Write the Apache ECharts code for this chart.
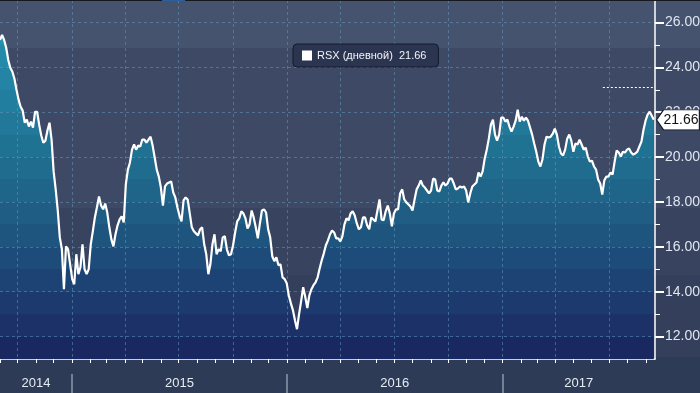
<!DOCTYPE html>
<html>
<head>
<meta charset="utf-8">
<script src="https://cdn.jsdelivr.net/npm/echarts@6/dist/echarts.min.js"></script>
<style>
  html, body { margin: 0; padding: 0; background: #2c3a55; }
  #chart { width: 700px; height: 393px; }
</style>
</head>
<body>
<div id="chart"></div>
<script>
// RSX closing prices, every half week from 1 Sep 2014
const values = [
  25.22, 25.44, 25.22, 24.87, 24.33, 23.98, 23.80, 23.49, 23.00, 22.56,
  22.24, 22.07, 21.53, 21.67, 21.36, 21.58, 21.31, 22.02, 22.02, 21.44,
  20.96, 20.64, 20.73, 21.18, 21.53, 20.78, 19.36, 18.56, 17.62, 16.42,
  15.89, 14.11, 16.02, 15.89, 15.22, 14.56, 14.33, 15.67, 14.78, 15.09,
  16.11, 15.00, 14.78, 15.00, 16.11, 16.69, 17.31, 17.76, 18.24, 17.84,
  17.67, 17.93, 17.53, 16.87, 16.33, 16.02, 16.56, 16.96, 17.22, 17.36,
  17.09, 18.78, 19.44, 19.76, 20.33, 20.56, 20.33, 20.51, 20.47, 20.78,
  20.78, 20.64, 20.78, 20.91, 20.51, 19.98, 19.44, 19.13, 18.64, 17.84,
  18.69, 18.82, 18.87, 18.91, 18.42, 18.20, 17.76, 17.40, 17.13, 18.07,
  18.20, 18.11, 17.49, 16.87, 16.69, 16.60, 16.51, 16.78, 16.87, 16.11,
  15.67, 14.78, 15.22, 16.11, 16.56, 15.67, 15.89, 15.80, 16.42, 16.47,
  15.89, 15.62, 15.67, 16.07, 16.64, 17.13, 17.27, 17.58, 17.49, 17.27,
  16.82, 17.00, 17.62, 17.31, 16.87, 16.38, 17.04, 17.62, 17.67, 17.53,
  16.78, 16.42, 15.58, 15.36, 15.53, 15.18, 15.22, 14.64, 14.56, 14.38,
  13.84, 13.49, 13.18, 12.73, 12.33, 13.00, 13.58, 14.20, 13.76, 13.27,
  13.84, 14.11, 14.29, 14.42, 14.64, 15.04, 15.40, 15.71, 16.07, 16.29,
  16.56, 16.73, 16.64, 16.38, 16.38, 16.24, 16.47, 17.00, 17.27, 17.18,
  17.49, 17.58, 17.40, 17.04, 16.78, 16.87, 17.31, 17.31, 16.96, 16.78,
  17.31, 17.22, 17.13, 17.62, 18.11, 17.22, 17.18, 17.58, 17.84, 17.49,
  16.91, 17.49, 17.67, 17.67, 18.38, 18.56, 18.11, 17.98, 17.89, 17.80,
  17.62, 18.11, 18.56, 18.73, 18.96, 18.73, 18.64, 18.51, 18.38, 18.51,
  19.04, 19.00, 18.51, 18.47, 18.73, 18.87, 18.73, 18.82, 19.04, 19.04,
  18.82, 18.56, 18.60, 18.69, 18.64, 18.69, 18.51, 17.98, 18.38, 18.69,
  18.78, 18.87, 19.31, 19.13, 19.36, 19.93, 20.33, 20.82, 21.44, 21.67,
  21.00, 20.73, 21.00, 21.76, 21.76, 21.58, 21.67, 21.36, 21.13, 21.36,
  21.62, 22.11, 21.58, 21.80, 21.62, 21.76, 21.62, 21.31, 21.00, 20.60,
  20.24, 19.80, 19.58, 19.89, 20.56, 20.91, 20.87, 20.91, 21.04, 21.27,
  21.00, 20.47, 20.16, 20.07, 20.33, 20.82, 21.00, 20.73, 20.24, 20.60,
  20.56, 20.78, 20.56, 20.33, 20.42, 20.02, 19.80, 19.84, 19.58, 19.44,
  19.00, 18.82, 18.33, 18.96, 19.13, 19.13, 19.31, 19.22, 19.80, 20.29,
  20.20, 20.02, 20.24, 20.20, 20.33, 20.38, 20.20, 20.11, 20.16, 20.24,
  20.47, 20.69, 21.22, 21.62, 21.89, 22.02, 21.84, 21.66
];
const startDate = Date.UTC(2014, 8, 1);
const stepDays = 3.5;
const seriesName = 'RSX (дневной)';
const yTicks = [12, 14, 16, 18, 20, 22, 24, 26];
const yMinorTicks = [13, 15, 17, 19, 21, 23, 25];
const years = [2014, 2015, 2016, 2017];
const refLevel = 23.1;
const refStart = Date.UTC(2017, 5, 20);

const DAY = 864e5;
const xMin = startDate;
const xMax = Date.UTC(2017, 8, 16, 12);
const data = values.map((v, i) => [startDate + i * stepDays * DAY, v]);
const last = values[values.length - 1];

// month / quarter / year marks for the time axis
const months = [];
for (let y = 2014; y <= 2017; y++) {
  for (let m = 0; m < 12; m++) {
    const t = Date.UTC(y, m, 1);
    if (t >= xMin && t <= xMax) months.push(t);
  }
}
const quarters = months.filter(t => new Date(t).getUTCMonth() % 3 === 0);
const yearStarts = years.map(y => Date.UTC(y, 0, 1)).filter(t => t > xMin);
const yearCenters = years.map(y => {
  const a = Math.max(xMin, Date.UTC(y, 0, 1));
  const b = Math.min(xMax, Date.UTC(y + 1, 0, 1));
  return (a + b) / 2;
});

const font = 'Liberation Sans';
const gridDash = { color: 'rgba(105,155,190,0.5)', type: [3, 3], width: 1 };

// stepped fill, one band per value unit (top to bottom)
const bandColors = ['#2896b3', '#2690af', '#248aaa', '#2384a5', '#227e9f', '#217899',
  '#207293', '#206c8e', '#1f6589', '#1f5d84', '#1e557f', '#1d4c7a',
  '#1c4374', '#1c3a6e', '#1b3168', '#1a2862'];
const fillStops = [];
bandColors.forEach((c, k) => {
  fillStops.push({ offset: k / bandColors.length, color: c });
  fillStops.push({ offset: (k + 1) / bandColors.length, color: c });
});
const bgBands = [[0, 48, '#46536e'], [48, 208, '#3e4965'], [208, 275, '#38445f'],
  [275, 357, '#333f5b'], [357, 393, '#2d3b56']];
const bgStops = [];
bgBands.forEach(b => {
  bgStops.push({ offset: b[0] / 393, color: b[2] });
  bgStops.push({ offset: b[1] / 393, color: b[2] });
});

const chart = echarts.init(document.getElementById('chart'));
chart.setOption({
  animation: false,
  backgroundColor: new echarts.graphic.LinearGradient(0, 0, 0, 1, bgStops),
  grid: { left: 0, right: 45, top: 0, bottom: 34, outerBoundsMode: 'none' },
  legend: {
    left: 293, top: 44,
    data: [{ name: seriesName, itemStyle: { color: '#ffffff' } }],
    icon: 'rect', itemWidth: 10, itemHeight: 10,
    backgroundColor: '#2b3550', borderColor: '#121a2a', borderWidth: 1, borderRadius: 4,
    padding: [6, 12, 6, 9],
    formatter: name => name + '  ' + last.toFixed(2),
    textStyle: { color: '#f2f4f8', fontSize: 11, fontFamily: font }
  },
  xAxis: [
    {
      type: 'value', min: xMin, max: xMax,
      axisLine: { lineStyle: { color: '#ffffff', width: 1.5 } },
      axisTick: { customValues: months, length: 4, lineStyle: { color: '#ffffff' } },
      axisLabel: { show: false },
      splitLine: { show: false }
    },
    {
      type: 'value', min: xMin, max: xMax, z: 2,
      axisLine: { show: false },
      axisTick: { show: false, customValues: quarters },
      axisLabel: { show: false },
      splitLine: { show: true, lineStyle: gridDash }
    },
    {
      type: 'value', min: xMin, max: xMax, position: 'bottom', offset: 15,
      axisLine: { show: false },
      axisTick: { customValues: yearStarts, length: 20, lineStyle: { color: '#8d97ab', width: 1.5 } },
      axisLabel: {
        customValues: yearCenters, margin: 3,
        formatter: v => String(new Date(v).getUTCFullYear()),
        color: '#e6ebf2', fontSize: 13, fontFamily: font
      },
      splitLine: { show: false }
    }
  ],
  yAxis: [
    {
      type: 'value', position: 'right', min: 11, max: 27, z: 2,
      axisLine: { show: true, lineStyle: { color: '#ffffff', width: 1.5 } },
      axisTick: { customValues: yTicks, length: 9, lineStyle: { color: '#ffffff', width: 2 } },
      axisLabel: {
        customValues: yTicks, margin: 10,
        formatter: v => v.toFixed(2),
        color: '#dfe6ef', fontSize: 14, fontFamily: font
      },
      splitLine: { show: true, lineStyle: gridDash }
    },
    {
      type: 'value', position: 'right', min: 11, max: 27,
      axisLine: { show: false },
      axisTick: { customValues: yMinorTicks, length: 5, lineStyle: { color: '#ffffff', width: 1 } },
      axisLabel: { show: false },
      splitLine: { show: false }
    }
  ],
  series: [
    {
      name: seriesName, type: 'line', data: data, z: 1,
      showSymbol: false, silent: true,
      lineStyle: { width: 0, opacity: 0 },
      areaStyle: {
        origin: 'start', opacity: 1,
        color: { type: 'linear', x: 0, y: 0, x2: 0, y2: 359, global: true, colorStops: fillStops }
      }
    },
    {
      name: seriesName, type: 'line', data: data, z: 3,
      showSymbol: false, silent: true, clip: false,
      color: '#ffffff',
      lineStyle: { color: '#ffffff', width: 2.2 },
      markLine: {
        silent: true, symbol: ['none', 'none'],
        label: { show: false },
        lineStyle: { color: '#ffffff', type: [2, 2], width: 1 },
        data: [[{ coord: [refStart, refLevel] }, { coord: [xMax, refLevel] }]]
      },
      markPoint: {
        silent: true,
        symbol: 'path://M0,10 L7,0 L43,0 L43,20 L7,20 Z',
        symbolSize: [43, 20], symbolOffset: [23, 0], symbolKeepAspect: false,
        itemStyle: { color: '#ffffff', borderColor: '#1a1f2b', borderWidth: 1 },
        label: {
          show: true, position: 'inside', offset: [3, 0],
          formatter: () => last.toFixed(2),
          color: '#111111', fontSize: 14, fontFamily: font
        },
        data: [{ coord: [xMax, last] }]
      }
    }
  ],
  graphic: [
    { type: 'rect', shape: { x: 0, y: 0, width: 700, height: 1 }, style: { fill: '#17191f' }, z: 10 },
    { type: 'rect', shape: { x: 162, y: 0, width: 23, height: 1 }, style: { fill: '#2c5f9e' }, z: 11 }
  ]
});
</script>
</body>
</html>
